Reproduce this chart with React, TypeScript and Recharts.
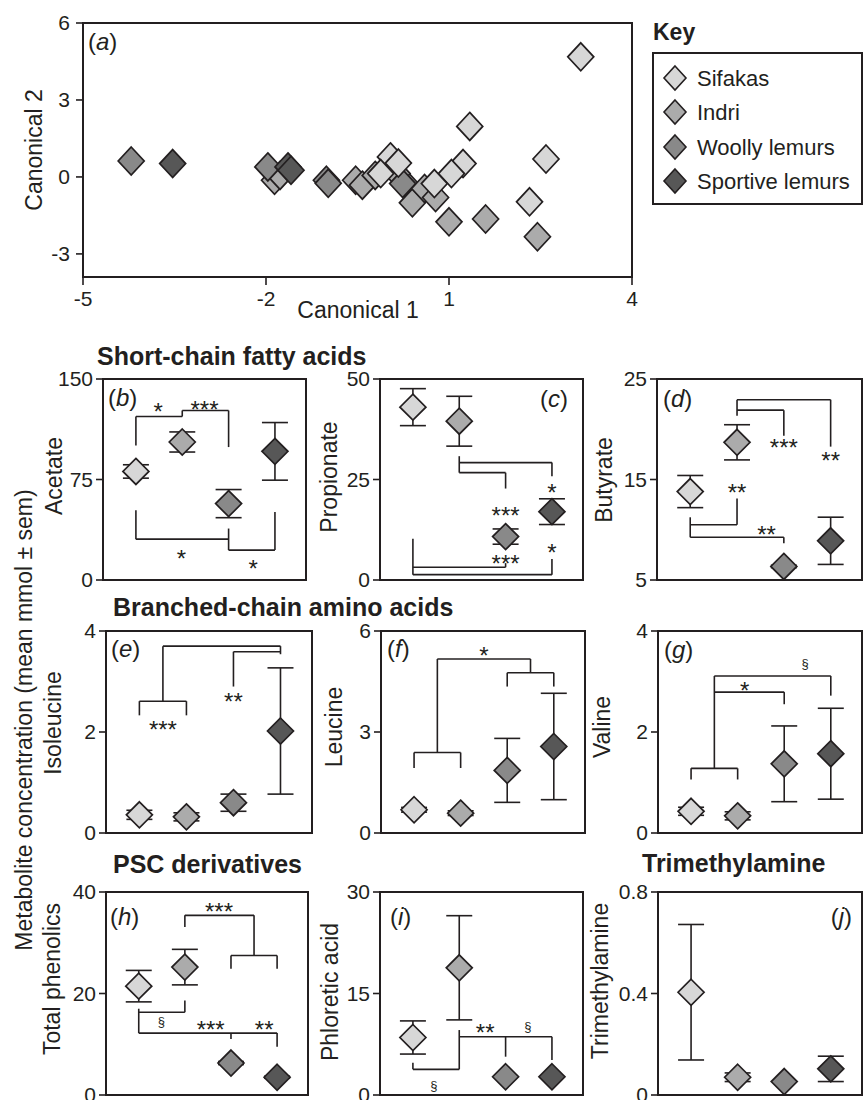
import React from 'react';
import { ScatterChart, Scatter, XAxis, YAxis, ErrorBar, ReferenceLine, ReferenceArea } from 'recharts';

const FONT = '"Liberation Sans", Arial, Helvetica, sans-serif';
const INK = '#231f20';

const speciesNames = ['Sifakas', 'Indri', 'Woolly lemurs', 'Sportive lemurs'];
const speciesColors = ['#d7d7d7', '#ababab', '#898989', '#575757'];

// (a) canonical scores [canonical 1, canonical 2]
const canonicalSifakas = [[3.16, 4.68], [1.34, 1.97], [2.59, 0.7], [1.23, 0.52], [1.04, 0.13], [2.32, -0.97], [0.04, 0.78], [0.17, 0.54], [-0.12, 0.13], [0.76, -0.26]];
const canonicalIndri = [[-1.86, -0.13], [-1.77, 0.06], [-0.53, -0.13], [-0.42, -0.32], [-0.21, 0.06], [0.31, -0.32], [0.4, -1.01], [0.6, -0.45], [0.78, -0.8], [1.0, -1.75], [1.6, -1.64], [2.45, -2.33], [0.15, 0.13]];
const canonicalWoolly = [[-4.21, 0.62], [-1.97, 0.39], [-1.01, -0.13], [-0.98, -0.25], [0.24, -0.26]];
const canonicalSportive = [[-3.53, 0.52], [-1.64, 0.39], [-1.59, 0.26]];
const canonical1Ticks = [-5, -2, 1, 4];
const canonical2Ticks = [-3, 0, 3, 6];

// metabolite means and sem (order: Sifakas, Indri, Woolly, Sportive)
const acetateMean = [81, 103, 57, 96];
const acetateSem = [5, 7.5, 10.5, 21.5];
const propionateMean = [43, 39.5, 10.8, 17];
const propionateSem = [4.6, 6.2, 1.9, 3.2];
const butyrateMean = [13.8, 18.7, 6.35, 8.9];
const butyrateSem = [1.6, 1.75, 0.12, 2.35];
const isoleucineMean = [0.36, 0.32, 0.6, 2.02];
const isoleucineSem = [0.09, 0.08, 0.17, 1.25];
const leucineMean = [0.69, 0.59, 1.86, 2.57];
const leucineSem = [0.07, 0.07, 0.95, 1.58];
const valineMean = [0.43, 0.34, 1.37, 1.57];
const valineSem = [0.08, 0.08, 0.75, 0.9];
const phenolicsMean = [21.45, 25.2, 6.3, 3.5];
const phenolicsSem = [3.1, 3.5, 0.3, 0.2];
const phloreticMean = [8.5, 18.8, 2.7, 2.7];
const phloreticSem = [2.45, 7.7, 0, 0];
const tmaMean = [0.405, 0.07, 0.053, 0.103];
const tmaSem = [0.267, 0.017, 0, 0.05];

// significance brackets (polylines in data coords: [group, value])
const acetateBrackets = [
  [[1, 100.4], [1, 122], [2, 122], [2, 126.5], [3, 126.5], [3, 99.2]],
  [[1, 52], [1, 30.5], [3, 30.5]],
  [[3, 38.4], [3, 22.3], [4, 22.3], [4, 50.8]],
];
const acetateMarks = [{ x: 1.48, y: 130, t: '*' }, { x: 2.48, y: 131, t: '***' }, { x: 1.98, y: 19.8, t: '*' }, { x: 3.53, y: 12.4, t: '*' }];
const propionateBrackets = [
  [[2, 30.8], [2, 26.7], [3, 26.7], [3, 22.75]],
  [[2, 29.2], [4, 29.2], [4, 25.8]],
  [[1, 10.25], [1, 1.33], [4, 1.33], [4, 5.25]],
  [[1, 3.17], [3, 3.17], [3, 4.2]],
];
const propionateMarks = [{ x: 4, y: 23.2, t: '*' }, { x: 3, y: 17.3, t: '***' }, { x: 3, y: 5.5, t: '***' }, { x: 4, y: 8.2, t: '*' }];
const butyrateBrackets = [
  [[2, 21.35], [2, 22.94], [4, 22.94], [4, 18.27]],
  [[2, 21.9], [3, 21.9], [3, 19.36]],
  [[1, 11.24], [1, 9.25], [3, 9.25], [3, 8.65]],
  [[1, 10.5], [2, 10.5], [2, 13.1]],
];
const butyrateMarks = [{ x: 3, y: 18.7, t: '***' }, { x: 4, y: 17.4, t: '**' }, { x: 2, y: 14.3, t: '**' }, { x: 2.63, y: 10.1, t: '**' }];
const isoleucineBrackets = [
  [[1, 2.33], [1, 2.61], [2, 2.61], [2, 2.33]],
  [[1.5, 2.61], [1.5, 3.7], [4, 3.7], [4, 3.54]],
  [[3, 2.9], [3, 3.59], [4, 3.59]],
];
const isoleucineMarks = [{ x: 1.5, y: 2.15, t: '***' }, { x: 3, y: 2.71, t: '**' }];
const leucineBrackets = [
  [[1, 1.93], [1, 2.39], [2, 2.39], [2, 1.93]],
  [[1.5, 2.39], [1.5, 5.17], [3.5, 5.17], [3.5, 4.76]],
  [[3, 4.35], [3, 4.76], [4, 4.76], [4, 4.35]],
];
const leucineMarks = [{ x: 2.5, y: 5.44, t: '*' }];
const valineBrackets = [
  [[1, 1.06], [1, 1.28], [2, 1.28], [2, 1.06]],
  [[1.5, 1.28], [1.5, 3.11], [4, 3.11], [4, 2.72]],
  [[1.5, 2.79], [3, 2.79], [3, 2.55]],
];
const valineMarks = [{ x: 2.15, y: 2.94, t: '*' }, { x: 3.45, y: 3.34, t: '§' }];
const phenolicsBrackets = [
  [[2, 33.1], [2, 35.4], [3.5, 35.4], [3.5, 27.5]],
  [[3, 24.9], [3, 27.5], [4, 27.5], [4, 24.9]],
  [[1, 17], [1, 12.2], [4, 12.2], [4, 9.5]],
  [[1, 16.3], [2, 16.3], [2, 18.6]],
  [[3, 12.2], [3, 11.05]],
];
const phenolicsMarks = [{ x: 2.74, y: 37.2, t: '***' }, { x: 1.49, y: 14.3, t: '§' }, { x: 2.56, y: 14.0, t: '***' }, { x: 3.72, y: 14.0, t: '**' }];
const phloreticBrackets = [
  [[1, 4.77], [1, 3.79], [2, 3.79], [2, 9.6]],
  [[2, 8.6], [4, 8.6], [4, 5.16]],
  [[3, 8.6], [3, 5.66]],
];
const phloreticMarks = [{ x: 1.45, y: 1.33, t: '§' }, { x: 2.56, y: 10.1, t: '**' }, { x: 3.48, y: 10.1, t: '§' }];

const X_DOMAIN: [number, number] = [0.29, 4.67];

const makeDiamond = (fill: string, hw = 13, hh = 13) => (p: any) => {
  if (p == null || p.cx == null || p.cy == null) return <g />;
  const { cx, cy } = p;
  return (
    <polygon
      points={`${cx},${cy - hh} ${cx + hw},${cy} ${cx},${cy + hh} ${cx - hw},${cy}`}
      fill={fill}
      stroke={INK}
      strokeWidth={1.7}
    />
  );
};

const markShape = (p: any) => {
  if (p == null || p.cx == null) return <g />;
  const t = p.payload.t;
  const sect = t === '§';
  return (
    <text x={p.cx} y={p.cy + (sect ? 4 : 14)} textAnchor="middle" fontSize={sect ? 13 : 24} fontFamily={FONT} fill={INK}>
      {t}
    </text>
  );
};

type PanelProps = {
  left: number; top: number; w: number; h: number;
  yDomain: [number, number]; yTicks: number[];
  means: number[]; errs: number[];
  brackets?: number[][][]; marks?: { x: number; y: number; t: string }[];
};

const tickStyle = { fontSize: 21, fill: INK, fontFamily: FONT };

function Panel({ left, top, w, h, yDomain, yTicks, means, errs, brackets = [], marks = [] }: PanelProps) {
  const YW = 64;
  const MT = 16;
  const MR = 6;
  const segs: number[][][] = [];
  brackets.forEach((pl) => {
    for (let k = 0; k < pl.length - 1; k++) segs.push([pl[k], pl[k + 1]]);
  });
  return (
    <div style={{ position: 'absolute', left: left - YW, top: top - MT }}>
      <ScatterChart width={YW + w + MR} height={h + 2 * MT} margin={{ top: MT, right: MR, bottom: MT, left: 0 }}>
        <XAxis type="number" dataKey="x" domain={X_DOMAIN} hide />
        <YAxis
          type="number"
          dataKey="y"
          domain={yDomain}
          ticks={yTicks}
          interval={0}
          width={YW}
          tickSize={7}
          tickMargin={3}
          tick={tickStyle}
          tickLine={{ stroke: INK, strokeWidth: 1.6 }}
          axisLine={{ stroke: INK, strokeWidth: 2 }}
        />
        <ReferenceArea x1={X_DOMAIN[0]} x2={X_DOMAIN[1]} y1={yDomain[0]} y2={yDomain[1]} fill="none" fillOpacity={0} stroke={INK} strokeWidth={2} />
        {segs.map((s, i) => (
          <ReferenceLine key={'s' + i} segment={[{ x: s[0][0], y: s[0][1] }, { x: s[1][0], y: s[1][1] }]} stroke={INK} strokeWidth={1.6} />
        ))}
        {means.map((m, i) => (
          <Scatter key={'p' + i} name={speciesNames[i]} data={[{ x: i + 1, y: m, err: errs[i] }]} shape={makeDiamond(speciesColors[i])} isAnimationActive={false}>
            <ErrorBar dataKey="err" direction="y" width={13} stroke={INK} strokeWidth={1.6} />
          </Scatter>
        ))}
        {marks.length > 0 && <Scatter data={marks} shape={markShape} isAnimationActive={false} />}
      </ScatterChart>
    </div>
  );
}

function CanonicalPanel() {
  const left = 83, top = 23, w = 549, h = 254;
  const YW = 80, MT = 16, MR = 16, XH = 40;
  const groups = [
    { pts: canonicalIndri, i: 1 },
    { pts: canonicalWoolly, i: 2 },
    { pts: canonicalSportive, i: 3 },
    { pts: canonicalSifakas, i: 0 },
  ];
  return (
    <div style={{ position: 'absolute', left: left - YW, top: top - MT }}>
      <ScatterChart width={YW + w + MR} height={MT + h + XH} margin={{ top: MT, right: MR, bottom: 0, left: 0 }}>
        <XAxis
          type="number"
          dataKey="x"
          domain={[-5, 4]}
          ticks={canonical1Ticks}
          interval={0}
          height={XH}
          tickSize={8}
          tickMargin={6}
          tick={tickStyle}
          tickLine={{ stroke: INK, strokeWidth: 1.6 }}
          axisLine={{ stroke: INK, strokeWidth: 2 }}
        />
        <YAxis
          type="number"
          dataKey="y"
          domain={[-3.9, 6]}
          ticks={canonical2Ticks}
          interval={0}
          width={YW}
          tickSize={7}
          tickMargin={6}
          tick={tickStyle}
          tickLine={{ stroke: INK, strokeWidth: 1.6 }}
          axisLine={{ stroke: INK, strokeWidth: 2 }}
        />
        <ReferenceArea x1={-5} x2={4} y1={-3.9} y2={6} fill="none" fillOpacity={0} stroke={INK} strokeWidth={2} />
        {groups.map((g) => (
          <Scatter
            key={g.i}
            name={speciesNames[g.i]}
            data={g.pts.map((p) => ({ x: p[0], y: p[1] }))}
            shape={makeDiamond(speciesColors[g.i], 13, 14)}
            isAnimationActive={false}
          />
        ))}
      </ScatterChart>
    </div>
  );
}

const rotLabel = (text: string, bx: number, cy: number, size = 23) => (
  <text key={text} transform={`translate(${bx},${cy}) rotate(-90)`} textAnchor="middle" fontSize={size} fontFamily={FONT} fill={INK}>
    {text}
  </text>
);

const letter = (ch: string, x: number, y: number, anchor: 'start' | 'end' = 'start') => (
  <text key={'L' + ch} x={x} y={y} textAnchor={anchor} fontSize={24} fontFamily={FONT} fill={INK}>
    (<tspan fontStyle="italic">{ch}</tspan>)
  </text>
);

const title = (text: string, x: number, y: number) => (
  <text key={text} x={x} y={y} fontSize={25} fontWeight="bold" fontFamily={FONT} fill={INK}>
    {text}
  </text>
);

export default function App() {
  const legendY = [78, 112, 147, 181];
  return (
    <div style={{ position: 'absolute', left: 0, top: 0, width: 864, height: 1100, overflow: 'hidden', background: '#fff', fontFamily: FONT }}>
      <CanonicalPanel />
      <Panel left={103} top={379} w={203} h={201} yDomain={[0, 150]} yTicks={[0, 75, 150]} means={acetateMean} errs={acetateSem} brackets={acetateBrackets} marks={acetateMarks} />
      <Panel left={380} top={379} w={203} h={201} yDomain={[0, 50]} yTicks={[0, 25, 50]} means={propionateMean} errs={propionateSem} brackets={propionateBrackets} marks={propionateMarks} />
      <Panel left={657} top={379} w={205} h={201} yDomain={[5, 25]} yTicks={[5, 15, 25]} means={butyrateMean} errs={butyrateSem} brackets={butyrateBrackets} marks={butyrateMarks} />
      <Panel left={106} top={631} w={206} h={202} yDomain={[0, 4]} yTicks={[0, 2, 4]} means={isoleucineMean} errs={isoleucineSem} brackets={isoleucineBrackets} marks={isoleucineMarks} />
      <Panel left={381} top={631} w={204} h={202} yDomain={[0, 6]} yTicks={[0, 3, 6]} means={leucineMean} errs={leucineSem} brackets={leucineBrackets} marks={leucineMarks} />
      <Panel left={658} top={631} w={204} h={202} yDomain={[0, 4]} yTicks={[0, 2, 4]} means={valineMean} errs={valineSem} brackets={valineBrackets} marks={valineMarks} />
      <Panel left={106} top={892} w={202} h={203} yDomain={[0, 40]} yTicks={[0, 20, 40]} means={phenolicsMean} errs={phenolicsSem} brackets={phenolicsBrackets} marks={phenolicsMarks} />
      <Panel left={380} top={892} w={203} h={203} yDomain={[0, 30]} yTicks={[0, 15, 30]} means={phloreticMean} errs={phloreticSem} brackets={phloreticBrackets} marks={phloreticMarks} />
      <Panel left={658} top={892} w={204} h={203} yDomain={[0, 0.8]} yTicks={[0, 0.4, 0.8]} means={tmaMean} errs={tmaSem} />
      <svg width={864} height={1100} style={{ position: 'absolute', left: 0, top: 0, pointerEvents: 'none' }}>
        <text x={358} y={318} textAnchor="middle" fontSize={23} fontFamily={FONT} fill={INK}>Canonical 1</text>
        {rotLabel('Canonical 2', 42, 150)}
        {letter('a', 88, 50)}
        <text x={653} y={40} fontSize={23} fontWeight="bold" fontFamily={FONT} fill={INK}>Key</text>
        <rect x={653} y={53} width={209} height={151} fill="none" stroke={INK} strokeWidth={2} />
        {speciesNames.map((n, i) => (
          <g key={n}>
            <polygon
              points={`675,${legendY[i] - 12} 686,${legendY[i]} 675,${legendY[i] + 12} 664,${legendY[i]}`}
              fill={speciesColors[i]}
              stroke={INK}
              strokeWidth={1.6}
            />
            <text x={697} y={legendY[i] + 8} fontSize={22} fontFamily={FONT} fill={INK}>{n}</text>
          </g>
        ))}
        {title('Short-chain fatty acids', 97, 365)}
        {title('Branched-chain amino acids', 113, 616)}
        {title('PSC derivatives', 113, 873)}
        {title('Trimethylamine', 642, 872)}
        {rotLabel('Metabolite concentration (mean mmol ± sem)', 32, 720)}
        {rotLabel('Acetate', 62, 476)}
        {rotLabel('Propionate', 337, 477)}
        {rotLabel('Butyrate', 612, 480)}
        {rotLabel('Isoleucine', 61, 723)}
        {rotLabel('Leucine', 342, 727)}
        {rotLabel('Valine', 610, 727)}
        {rotLabel('Total phenolics', 60, 979)}
        {rotLabel('Phloretic acid', 338, 992)}
        {rotLabel('Trimethylamine', 608, 981)}
        {letter('b', 108, 406)}
        {letter('c', 540, 407)}
        {letter('d', 663, 407)}
        {letter('e', 111, 657)}
        {letter('f', 387, 657)}
        {letter('g', 664, 658)}
        {letter('h', 110, 925)}
        {letter('i', 390, 925)}
        {letter('j', 852, 925, 'end')}
      </svg>
    </div>
  );
}
